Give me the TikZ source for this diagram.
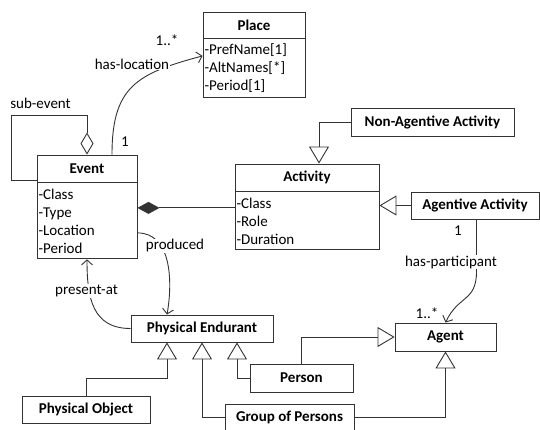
\documentclass[tikz,border=0pt]{standalone}
\usepackage{fontspec}
\setmainfont{Carlito}
\usetikzlibrary{arrows.meta}
\definecolor{ink}{HTML}{333333}
\begin{document}
\begin{tikzpicture}[x=1pt,y=-1pt,
  every node/.style={font=\fontsize{15pt}{18pt}\selectfont, text=black},
  cls/.style={draw=ink, line width=0.9pt, fill=white, inner sep=0pt,
    font=\fontsize{15pt}{18pt}\selectfont\bfseries},
  attrs/.style={draw=ink, line width=0.9pt, fill=white, inner xsep=1.5pt,
    inner ysep=0pt, align=left, anchor=north},
  lbl/.style={fill=white, inner sep=1pt},
  conn/.style={draw=ink, line width=0.9pt},
  assoc/.style={conn, -{Straight Barb[length=5pt,width=11pt]}},
  gen/.style={conn, -{Triangle[open,length=17pt,width=20pt]}},
  agg/.style={conn, {Diamond[open,length=22pt,width=13pt]}-},
  comp/.style={conn, {Diamond[length=22pt,width=12pt]}-},
]
\useasboundingbox[fill=white] (0,0) rectangle (540,430);

% classes with attribute compartments
\node[cls, minimum width=102pt, minimum height=26pt] (ph) at (254,25) {Place};
\node[attrs, text width=99pt, minimum height=59pt] (pb) at (ph.south)
  {-PrefName[1]\\-AltNames[*]\\-Period[1]};

\node[cls, minimum width=100pt, minimum height=27pt] (evh) at (87,168.5) {Event};
\node[attrs, text width=97pt, minimum height=76pt] (evb) at (evh.south)
  {-Class\\-Type\\-Location\\-Period};

\node[cls, minimum width=144pt, minimum height=27pt] (ah) at (307,177.5) {Activity};
\node[attrs, text width=141pt, minimum height=58pt] (acb) at (ah.south)
  {-Class\\-Role\\-Duration};

% plain classes
\node[cls, minimum width=163pt, minimum height=28pt] (naa) at (432.5,122) {Non-Agentive Activity};
\node[cls, minimum width=128pt, minimum height=27pt] (aa) at (475,205.5) {Agentive Activity};
\node[cls, minimum width=101pt, minimum height=28pt] (agent) at (445.5,337) {Agent};
\node[cls, minimum width=142pt, minimum height=27pt] (pe) at (202,328.5) {Physical Endurant};
\node[cls, minimum width=103pt, minimum height=28pt] (person) at (301.5,378) {Person};
\node[cls, minimum width=128pt, minimum height=27pt] (po) at (86,409.5) {Physical Object};
\node[cls, minimum width=129pt, minimum height=27pt] (gop) at (289.5,417.5) {Group of Persons};

% aggregation loop and composition
\draw[agg] (evh.north) -- ++(0,-39) -- ++(-76,0) |- ([yshift=2pt]evh.south west);
\coordinate (cmp) at ([yshift=13pt]evb.east);
\draw[comp] (cmp) -- (cmp -| acb.west);

% associations
\draw[assoc] ([xshift=25pt]evh.north) to[out=90,in=195,looseness=1.3] ([yshift=12.5pt]pb.west);
\draw[assoc] ([yshift=-12pt]evb.east) to[out=0,in=80] ([xshift=-35pt]pe.north);
\draw[assoc] (pe.west) to[out=180,in=-90,looseness=1.2] (evb.south);
\draw[assoc] ([xshift=1.5pt]aa.south) -- ([xshift=1.5pt,yshift=-52pt]aa.south)
  to[out=-90,in=65,looseness=1.3] (agent.north);

% generalizations
\draw[gen] (naa.west) -| ([xshift=12pt]ah.north);
\draw[gen] (aa.west) -- (aa.west -| acb.east);
\draw[gen] (po.north) -- ++(0,-17) -| ([xshift=-35pt]pe.south);
\draw[gen] (gop.west) -| (pe.south);
\draw[gen] (person.west) -| ([xshift=35pt]pe.south);
\draw[gen] (person.north) |- (agent.west);
\draw[gen] (gop.east) -| (agent.south);

% labels
\node (lsub) at (40.5,103) {sub-event};
\node[lbl] (lloc) at (132,64) {has-location};
\node (mloc1) at (167,40) {1..*};
\node (mloc2) at (125,142) {1};
\node[lbl] (lprod) at (175,246) {produced};
\node[lbl] (lpres) at (86.5,291) {present-at};
\node[lbl] (lpart) at (451,262) {has-participant};
\node (mpart1) at (458,231) {1};
\node (mpart2) at (427,313) {1..*};
\end{tikzpicture}
\end{document}
